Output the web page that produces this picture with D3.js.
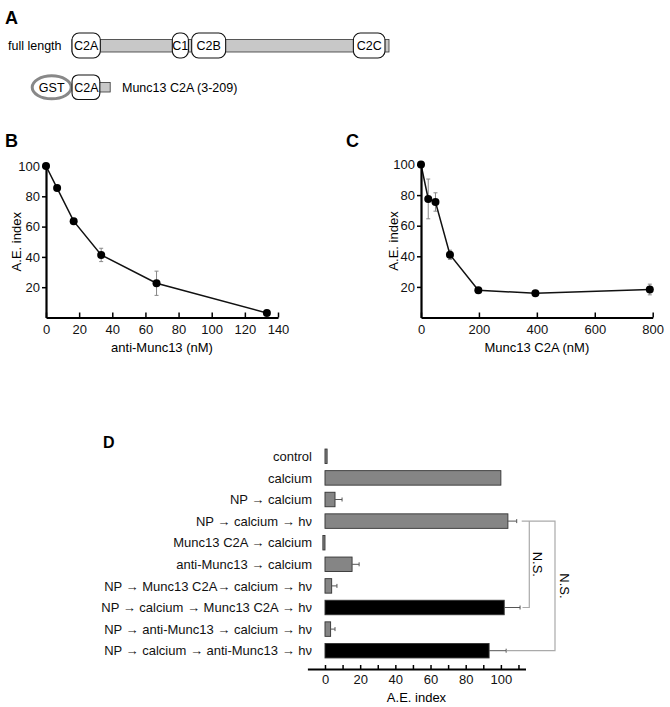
<!DOCTYPE html>
<html>
<head>
<meta charset="utf-8">
<script src="https://cdn.jsdelivr.net/npm/d3@7"></script>
<style>
body{margin:0;background:#fff}
svg{display:block;font-family:Arial,"Liberation Sans",sans-serif}
</style>
</head>
<body>
<svg id="fig" width="670" height="707"></svg>
<script>
// panel A: Munc13 domains, in residues
const proteinLength = 1735;
const domainNames = ["C2A", "C1", "C2B", "C2C"];
const domainStart = [0, 549, 655, 1540];
const domainEnd = [155, 637, 841, 1713];
const fragmentStart = 3;
const fragmentEnd = 209;

// panel B: anti-Munc13
const antiConc = [0, 6.7, 16.7, 33.3, 66.7, 133.3];
const antiAE = [100, 85.4, 63.6, 41.3, 22.6, 3.0];
const antiErr = [0, 1.5, 1.5, 4.4, 8, 0.5];
const antiTicks = [0, 20, 40, 60, 80, 100, 120, 140];

// panel C: Munc13 C2A
const c2aConc = [0, 25, 50, 100, 198, 395, 790];
const c2aAE = [100, 77.5, 75.5, 41, 17.8, 15.9, 18.3];
const c2aErr = [0, 13, 6, 3, 1, 1, 3.5];
const c2aTicks = [0, 200, 400, 600, 800];

const aeTicks = [20, 40, 60, 80, 100];

// panel D
const dLabels = ["control", "calcium", "NP \u2192 calcium", "NP \u2192 calcium \u2192 h\u03bd",
  "Munc13 C2A \u2192 calcium", "anti-Munc13 \u2192 calcium",
  "NP \u2192 Munc13 C2A\u2192 calcium \u2192 h\u03bd", "NP \u2192 calcium \u2192  Munc13 C2A \u2192 h\u03bd",
  "NP \u2192 anti-Munc13 \u2192 calcium \u2192 h\u03bd", "NP \u2192 calcium \u2192 anti-Munc13 \u2192 h\u03bd"];
const dValues = [1.2, 100, 5.7, 104, -1.2, 15.4, 3.8, 101.9, 3.2, 93.3];
const dErr = [0, 0, 4, 5, 0, 4, 3, 9, 2.5, 9.7];
const dKind = ["pre", "pre", "pre", "pre", "pre", "pre", "pre", "post", "pre", "post"];
const dTicks = [0, 10, 20, 30, 40, 50, 60, 70, 80, 90, 100, 110];

const svg = d3.select("#fig");

function panelLabel(t, x, y, size){
  svg.append("text").attr("x", x).attr("y", y)
    .style("font-weight", "bold").style("font-size", size + "px").text(t);
}

// ---------- A ----------
panelLabel("A", 5, 24, 18);
const res = d3.scaleLinear().domain([0, proteinLength]).range([72, 389]);

svg.append("text").attr("x", 8).attr("y", 50).style("font-size", "12.5px").text("full length");
svg.append("rect").attr("x", res(0)).attr("y", 39.5)
  .attr("width", res(proteinLength) - res(0)).attr("height", 12.5)
  .attr("fill", "#c8c8c8").attr("stroke", "#333").attr("stroke-width", 0.8);

domainNames.forEach(function(n, i){
  const x0 = res(domainStart[i]), x1 = res(domainEnd[i]);
  svg.append("rect").attr("x", x0).attr("y", 33).attr("width", x1 - x0).attr("height", 25)
    .attr("rx", 7).attr("fill", "#fff").attr("stroke", "#111").attr("stroke-width", 1.1);
  svg.append("text").attr("x", (x0 + x1) / 2).attr("y", 50)
    .attr("text-anchor", "middle").style("font-size", "12.5px").text(n);
});

// fragment row
svg.append("rect").attr("x", res(domainEnd[0]) - 2).attr("y", 82.5)
  .attr("width", res(fragmentEnd) - res(domainEnd[0]) + 2).attr("height", 9.5)
  .attr("fill", "#c8c8c8").attr("stroke", "#333").attr("stroke-width", 0.8);
svg.append("ellipse").attr("cx", 51.7).attr("cy", 87.3).attr("rx", 19.5).attr("ry", 11.5)
  .attr("fill", "#fff").attr("stroke", "#888").attr("stroke-width", 3);
svg.append("text").attr("x", 51.7).attr("y", 92).attr("text-anchor", "middle")
  .style("font-size", "12.5px").text("GST");
svg.append("rect").attr("x", res(fragmentStart) - 0.5).attr("y", 75)
  .attr("width", res(domainEnd[0]) - res(fragmentStart)).attr("height", 24.5)
  .attr("rx", 6).attr("fill", "#fff").attr("stroke", "#111").attr("stroke-width", 1.1);
svg.append("text").attr("x", (res(fragmentStart) + res(domainEnd[0])) / 2).attr("y", 92)
  .attr("text-anchor", "middle").style("font-size", "12.5px").text("C2A");
svg.append("text").attr("x", 122).attr("y", 92).style("font-size", "12.5px")
  .text("Munc13 C2A (" + fragmentStart + "-" + fragmentEnd + ")");

// ---------- B and C ----------
function styleAxis(a){
  a.attr("font-size", 13).attr("font-family", null);
  a.selectAll("text").style("font-size", "13px").attr("fill", "#111");
  a.select(".domain").attr("stroke-width", 2.2);
  a.selectAll(".tick line").attr("stroke-width", 1.5);
}

function drawCurve(xs, ys, errs, xScale, yScale, xTicks, xTitle, yTitleX){
  const g = svg.append("g");
  // error bars
  xs.forEach(function(x, i){
    if(!errs[i]) return;
    const cx = xScale(x);
    g.append("line").attr("x1", cx).attr("x2", cx)
      .attr("y1", yScale(ys[i] - errs[i])).attr("y2", yScale(ys[i] + errs[i]))
      .attr("stroke", "#888").attr("stroke-width", 1);
    [ys[i] - errs[i], ys[i] + errs[i]].forEach(function(v){
      g.append("line").attr("x1", cx - 2).attr("x2", cx + 2)
        .attr("y1", yScale(v)).attr("y2", yScale(v))
        .attr("stroke", "#888").attr("stroke-width", 1);
    });
  });
  const line = d3.line().x((d, i) => xScale(xs[i])).y(d => yScale(d));
  g.append("path").datum(ys).attr("d", line)
    .attr("fill", "none").attr("stroke", "#111").attr("stroke-width", 1.5);

  const xa = g.append("g").attr("transform", "translate(0," + yScale(0) + ")")
    .call(d3.axisBottom(xScale).tickValues(xTicks).tickSizeInner(-5).tickSizeOuter(0).tickPadding(7));
  styleAxis(xa);
  const ya = g.append("g").attr("transform", "translate(" + xScale(0) + ",0)")
    .call(d3.axisLeft(yScale).tickValues(aeTicks).tickSize(4).tickSizeOuter(0).tickPadding(2));
  styleAxis(ya);

  g.selectAll("circle.pt").data(ys).enter().append("circle")
    .attr("cx", (d, i) => xScale(xs[i])).attr("cy", d => yScale(d))
    .attr("r", 4).attr("fill", "#000");

  const mid = (xScale.range()[0] + xScale.range()[1]) / 2;
  g.append("text").attr("x", mid).attr("y", 352).attr("text-anchor", "middle")
    .style("font-size", "13px").text(xTitle);
  const ymid = (yScale.range()[0] + yScale.range()[1]) / 2;
  g.append("text").attr("transform", "translate(" + yTitleX + "," + ymid + ") rotate(-90)")
    .attr("text-anchor", "middle").style("font-size", "13px").text("A.E. index");
}

panelLabel("B", 5, 147, 18);
const xB = d3.scaleLinear().domain([0, 140]).range([46, 278]);
const yB = d3.scaleLinear().domain([0, 100]).range([317.5, 166]);
drawCurve(antiConc, antiAE, antiErr, xB, yB, antiTicks, "anti-Munc13 (nM)", 20.5);

panelLabel("C", 346, 147, 18);
const xC = d3.scaleLinear().domain([0, 800]).range([421, 652.7]);
const yC = d3.scaleLinear().domain([0, 100]).range([317.5, 164.5]);
drawCurve(c2aConc, c2aAE, c2aErr, xC, yC, c2aTicks, "Munc13 C2A (nM)", 397.5);

// ---------- D ----------
panelLabel("D", 103, 448, 16);
const xD = d3.scaleLinear().domain([-10, 114]).range([307.4, 525.5]);
const yD = d3.scalePoint().domain(dLabels).range([456.3, 650.7]);
const barH = 14.5;
const fillD = d3.scaleOrdinal().domain(["pre", "post"]).range(["#858585", "#000"]);

const gD = svg.append("g");
dLabels.forEach(function(lab, i){
  const cy = yD(lab);
  gD.append("text").attr("x", 312).attr("y", cy).attr("dy", "0.36em")
    .attr("text-anchor", "end").style("font-size", "13px").attr("fill", "#111").text(lab);
  const x0 = xD(Math.min(0, dValues[i])), x1 = xD(Math.max(0, dValues[i]));
  gD.append("rect").attr("x", x0).attr("y", cy - barH / 2)
    .attr("width", Math.max(x1 - x0, 1)).attr("height", barH)
    .attr("fill", fillD(dKind[i])).attr("stroke", "#333").attr("stroke-width", 0.9);
  if(dErr[i]){
    const xe = xD(dValues[i] + dErr[i]);
    gD.append("line").attr("x1", x1).attr("x2", xe).attr("y1", cy).attr("y2", cy)
      .attr("stroke", "#555").attr("stroke-width", 1);
    gD.append("line").attr("x1", xe).attr("x2", xe).attr("y1", cy - 2).attr("y2", cy + 2)
      .attr("stroke", "#555").attr("stroke-width", 1);
  }
});

const xaD = gD.append("g").attr("transform", "translate(0,669)")
  .call(d3.axisBottom(xD).tickValues(dTicks).tickSizeInner(-4).tickSizeOuter(0).tickPadding(6)
    .tickFormat(d => (d % 20 === 0 && d <= 100) ? d : ""));
styleAxis(xaD);
gD.append("text").attr("x", 416.5).attr("y", 701.5).attr("text-anchor", "middle")
  .style("font-size", "13px").text("A.E. index");

// N.S. brackets
const yTop = yD(dLabels[3]), yMidB = yD(dLabels[7]), yLow = yD(dLabels[9]);
const br = gD.append("g").attr("fill", "none").attr("stroke", "#aaa").attr("stroke-width", 1.2);
br.append("path").attr("d", "M521.7," + yTop + "H555V" + yLow + "H506.7");
br.append("path").attr("d", "M529.3," + yTop + "V" + yMidB + "H522.5");
gD.append("text").attr("transform", "translate(537.7," + ((yTop + yMidB) / 2) + ") rotate(90)")
  .attr("dy", "0.36em").attr("text-anchor", "middle").style("font-size", "13px").text("N.S.");
gD.append("text").attr("transform", "translate(564.5," + ((yTop + yLow) / 2) + ") rotate(90)")
  .attr("dy", "0.36em").attr("text-anchor", "middle").style("font-size", "13px").text("N.S.");
</script>
</body>
</html>
